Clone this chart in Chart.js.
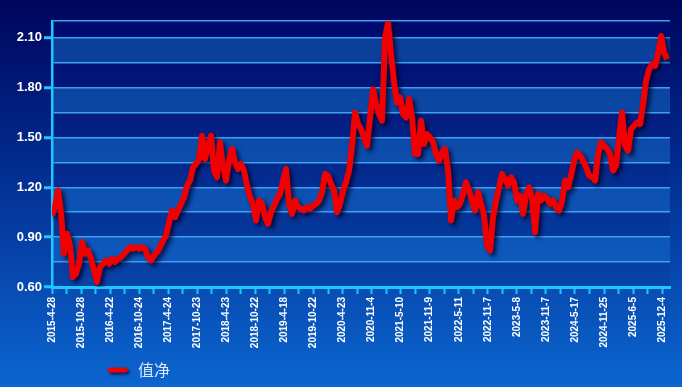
<!DOCTYPE html>
<html>
<head>
<meta charset="utf-8">
<script src="https://cdn.jsdelivr.net/npm/chart.js@4.4.1/dist/chart.umd.min.js"></script>
<style>
  body { margin: 0; background: #000660; }
  #wrap { width: 682px; height: 387px; }
</style>
</head>
<body>
<div id="wrap"><canvas id="myChart" width="682" height="387"></canvas></div>
<script>
// x-axis labels, one every major tick
const tickLabels = [
  '2015-4-28', '2015-10-28', '2016-4-22', '2016-10-24', '2017-4-24', '2017-10-23',
  '2018-4-23', '2018-10-22', '2019-4-18', '2019-10-22', '2020-4-23', '2020-11-4',
  '2021-5-10', '2021-11-9', '2022-5-11', '2022-11-7', '2023-5-8', '2023-11-7',
  '2024-5-17', '2024-11-25', '2025-6-5', '2025-12-4'
];

// net value at even steps
const navValues = [
  1.03, 1.08, 1.18, 1.05, 0.80, 0.92, 0.85, 0.66, 0.68, 0.74,
  0.87, 0.80, 0.82, 0.77, 0.70, 0.63, 0.72, 0.74, 0.76, 0.74,
  0.77, 0.75, 0.77, 0.78, 0.80, 0.82, 0.84, 0.83, 0.84, 0.83,
  0.84, 0.83, 0.78, 0.76, 0.79, 0.81, 0.84, 0.88, 0.91, 0.99,
  1.06, 1.02, 1.06, 1.10, 1.14, 1.21, 1.24, 1.32, 1.34, 1.37,
  1.51, 1.37, 1.45, 1.51, 1.30, 1.26, 1.47, 1.32, 1.24, 1.36,
  1.43, 1.35, 1.31, 1.34, 1.30, 1.21, 1.14, 1.10, 1.00, 1.12,
  1.10, 1.02, 0.98, 1.05, 1.09, 1.13, 1.16, 1.24, 1.31, 1.10,
  1.04, 1.12, 1.08, 1.07, 1.06, 1.08, 1.07, 1.09, 1.10, 1.12,
  1.17, 1.28, 1.27, 1.22, 1.18, 1.05, 1.10, 1.18, 1.23, 1.30,
  1.45, 1.65, 1.58, 1.55, 1.50, 1.45, 1.62, 1.79, 1.70, 1.64,
  1.60, 2.10, 2.19, 2.00, 1.83, 1.71, 1.74, 1.64, 1.62, 1.73,
  1.62, 1.40, 1.40, 1.60, 1.46, 1.52, 1.50, 1.47, 1.40, 1.36,
  1.41, 1.43, 1.30, 1.00, 1.12, 1.08, 1.10, 1.16, 1.23, 1.18,
  1.12, 1.06, 1.17, 1.10, 1.03, 0.85, 0.82, 1.02, 1.12, 1.20,
  1.28, 1.25, 1.21, 1.26, 1.23, 1.12, 1.15, 1.04, 1.15, 1.20,
  1.14, 0.93, 1.16, 1.12, 1.15, 1.13, 1.10, 1.12, 1.08, 1.06,
  1.12, 1.24, 1.20, 1.27, 1.36, 1.41, 1.39, 1.36, 1.32, 1.27,
  1.26, 1.24, 1.40, 1.47, 1.45, 1.43, 1.40, 1.30, 1.33, 1.50,
  1.65, 1.45, 1.42, 1.55, 1.57, 1.59, 1.58, 1.70, 1.84, 1.91,
  1.94, 1.93, 2.00, 2.11, 2.01, 1.97
];

const seriesName = '值净';
const yGridValues = [0.6, 0.75, 0.9, 1.05, 1.2, 1.35, 1.5, 1.65, 1.8, 1.95, 2.1, 2.2];
const yLabelValues = [0.6, 0.9, 1.2, 1.5, 1.8, 2.1];

const lastX = 21.17;   // series ends a bit after the last label
const points = navValues.map((v, i) => ({ x: i * lastX / (navValues.length - 1), y: v }));

const cyan = '#1ec8ff';
const gridBlue = '#3f9ff2';
const isLabeled = v => yLabelValues.some(l => Math.abs(l - v) < 1e-6);

const backdrop = {
  id: 'backdrop',
  beforeDraw(chart) {
    const { ctx, chartArea: a, scales: { y } } = chart;
    ctx.save();
    const bg = ctx.createLinearGradient(0, 0, 0, chart.height);
    bg.addColorStop(0, '#00055c');
    bg.addColorStop(0.4, '#02298c');
    bg.addColorStop(1, '#0b66d0');
    ctx.fillStyle = bg;
    ctx.fillRect(0, 0, chart.width, chart.height);

    const light = ctx.createLinearGradient(0, a.top, 0, a.bottom);
    light.addColorStop(0, '#0a3c96');
    light.addColorStop(1, '#0e5cc0');
    const dark = ctx.createLinearGradient(0, a.top, 0, a.bottom);
    dark.addColorStop(0, '#00086c');
    dark.addColorStop(1, '#0744a8');
    for (let i = 0; i < yGridValues.length - 1; i++) {
      const lo = yGridValues[i], hi = yGridValues[i + 1];
      const y0 = y.getPixelForValue(hi), y1 = y.getPixelForValue(lo);
      ctx.fillStyle = isLabeled(lo) ? dark : light;
      ctx.fillRect(a.left, y0, a.right - a.left, y1 - y0);
    }
    ctx.restore();
  },
  beforeDatasetDraw(chart) {
    const ctx = chart.ctx;
    ctx.save();
    ctx.shadowColor = 'rgba(0, 0, 40, 0.75)';
    ctx.shadowBlur = 4;
    ctx.shadowOffsetX = 3;
    ctx.shadowOffsetY = 3;
  },
  afterDatasetDraw(chart) {
    chart.ctx.restore();
  },
  afterDraw(chart) {
    const ctx = chart.ctx;
    ctx.save();
    ctx.shadowColor = 'rgba(0, 0, 40, 0.7)';
    ctx.shadowBlur = 3;
    ctx.shadowOffsetX = 2;
    ctx.shadowOffsetY = 2;
    ctx.strokeStyle = '#f00000';
    ctx.lineWidth = 5;
    ctx.lineCap = 'round';
    ctx.beginPath();
    ctx.moveTo(110, 370);
    ctx.lineTo(125, 370);
    ctx.stroke();
    ctx.shadowColor = 'transparent';
    ctx.fillStyle = '#dde6ff';
    ctx.font = '16px "Noto Sans CJK SC"';
    ctx.textBaseline = 'middle';
    ctx.fillText(chart.data.datasets[0].label, 138, 370);
    ctx.restore();
  }
};

const chart = new Chart(document.getElementById('myChart').getContext('2d'), {
  type: 'line',
  data: {
    datasets: [{
      label: seriesName,
      data: points,
      borderColor: '#f00000',
      borderWidth: 6,
      borderJoinStyle: 'round',
      pointRadius: 0,
      tension: 0
    }]
  },
  options: {
    responsive: false,
    animation: false,
    layout: { padding: { top: 21, right: 12, left: 0, bottom: 0 } },
    plugins: { legend: { display: false }, tooltip: { enabled: false } },
    scales: {
      x: {
        type: 'linear',
        min: 0,
        max: 21.27,
        afterBuildTicks: scale => {
          const t = [];
          for (let i = 0; i <= 42; i++) t.push({ value: i / 2 });
          scale.ticks = t;
        },
        afterFit: scale => { scale.height = 100; },
        border: { color: cyan, width: 3 },
        grid: { drawOnChartArea: false, tickLength: 7, tickColor: cyan, tickWidth: 2 },
        ticks: {
          autoSkip: false,
          minRotation: 90,
          maxRotation: 90,
          padding: 3,
          color: '#ffffff',
          font: { family: 'Arial, "Liberation Sans"', size: 10, weight: 'bold' },
          callback: v => Number.isInteger(v) ? tickLabels[v] : ''
        }
      },
      y: {
        min: 0.6,
        max: 2.2,
        afterBuildTicks: scale => { scale.ticks = yGridValues.map(v => ({ value: v })); },
        afterFit: scale => { scale.width = 52; },
        border: { color: cyan, width: 2.5 },
        grid: {
          color: ctx => ctx.tick && Math.abs(ctx.tick.value - 0.6) < 1e-6 ? 'transparent' : gridBlue,
          lineWidth: 1.5,
          tickLength: 8,
          tickWidth: 3,
          tickColor: ctx => ctx.tick && isLabeled(ctx.tick.value) ? cyan : 'transparent'
        },
        ticks: {
          padding: 2,
          color: '#ffffff',
          font: { family: 'Arial, "Liberation Sans"', size: 13, weight: 'bold' },
          callback: v => isLabeled(v) ? v.toFixed(2) : ''
        }
      }
    }
  },
  plugins: [backdrop]
});
</script>
</body>
</html>
